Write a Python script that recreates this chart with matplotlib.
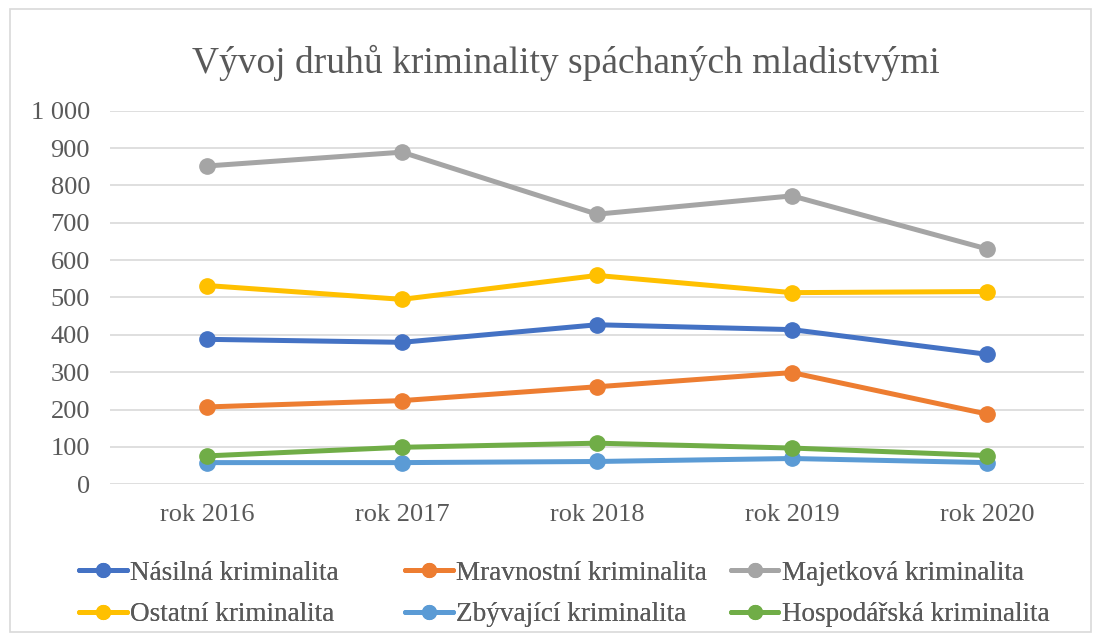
import matplotlib
matplotlib.use("Agg")
import matplotlib.pyplot as plt
from matplotlib.patches import Rectangle

plt.rcParams['font.family'] = ['Liberation Serif', 'DejaVu Serif']

# data
years = ["rok 2016", "rok 2017", "rok 2018", "rok 2019", "rok 2020"]
nasilna = [388, 380, 427, 414, 348]
mravnostni = [207, 224, 261, 299, 188]
majetkova = [852, 889, 723, 772, 630]
ostatni = [532, 495, 559, 513, 516]
zbyvajici = [58, 58, 61, 69, 58]
hospodarska = [76, 99, 110, 97, 77]

series = [
    ("Násilná kriminalita", nasilna, "#4472C4"),
    ("Mravnostní kriminalita", mravnostni, "#ED7D31"),
    ("Majetková kriminalita", majetkova, "#A5A5A5"),
    ("Ostatní kriminalita", ostatni, "#FFC000"),
    ("Zbývající kriminalita", zbyvajici, "#5B9BD5"),
    ("Hospodářská kriminalita", hospodarska, "#70AD47"),
]

txt = "#595959"
fig = plt.figure(figsize=(11.01, 6.41), dpi=100)
ax = fig.add_axes([0.0995, 0.2445, 0.8855, 0.5828])

x = list(range(len(years)))
lines = []
for name, vals, col in series:
    ln, = ax.plot(x, vals, color=col, lw=3.6, marker="o", ms=11,
                  solid_capstyle="round", label=name)
    lines.append(ln)

ax.set_xlim(-0.5, len(years) - 0.5)
ax.set_ylim(0, 1000)
ax.set_yticks(range(0, 1001, 100))
ax.set_yticklabels([f"{v:,}".replace(",", " ") for v in range(0, 1001, 100)])
ax.set_xticks(x)
ax.set_xticklabels(years)
ax.tick_params(length=0, labelsize=19, labelcolor=txt)
ax.tick_params(axis="y", pad=14)
ax.tick_params(axis="x", pad=14)
ax.grid(axis="y", color="#D9D9D9", lw=1.2)
ax.set_axisbelow(True)
for s in ax.spines.values():
    s.set_visible(False)

fig.text(0.514, 0.902, "Vývoj druhů kriminality spáchaných mladistvými",
         ha="center", va="center", fontsize=27, color=txt)

# legend: three equal-width columns like Excel
cols = [(0, 3), (1, 4), (2, 5)]
xs = [0.072, 0.368, 0.664]
for (a, b), xl in zip(cols, xs):
    lg = fig.legend([lines[a], lines[b]], [series[a][0], series[b][0]],
                    loc="upper left", bbox_to_anchor=(xl, 0.125),
                    frameon=False, fontsize=19.5, handlelength=1.75,
                    handletextpad=0.12, labelspacing=0.6, markerscale=0.9,
                    borderaxespad=0, borderpad=0)
    for t in lg.get_texts():
        t.set_color(txt)
    fig.add_artist(lg)

fig.add_artist(Rectangle((0.009, 0.014), 0.982, 0.972, transform=fig.transFigure,
                         fill=False, edgecolor="#D9D9D9", lw=1.2))

fig.savefig("out.png", dpi=100)
